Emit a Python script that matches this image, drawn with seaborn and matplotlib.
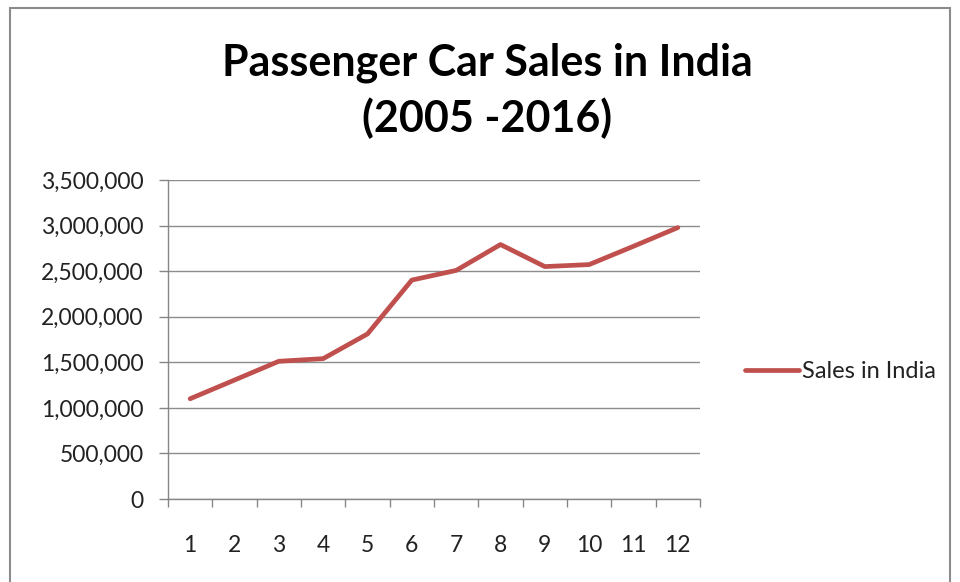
import numpy as np
import pandas as pd
import matplotlib
matplotlib.use('Agg')
import matplotlib.pyplot as plt
import matplotlib.ticker as mticker
from matplotlib.patches import Rectangle
import seaborn as sns

# %% Data
years = list(range(1, 13))
sales = [1100000, 1305000, 1511000, 1540000, 1811000, 2402000,
         2508000, 2792000, 2550000, 2572000, 2773000, 2978000]
y_ticks = [0, 500000, 1000000, 1500000, 2000000, 2500000, 3000000, 3500000]
series_name = 'Sales in India'
title = 'Passenger Car Sales in India\n(2005 -2016)'

df = pd.DataFrame({'idx': years, series_name: sales})

# %% Plot
sns.set_style('white')
plt.rcParams['font.family'] = ['Lato', 'DejaVu Sans']

fig = plt.figure(figsize=(9.6, 5.82), dpi=100)
ax = fig.add_axes([168/960, 83/582, 532/960, 319/582])

sns.lineplot(data=df, x='idx', y=series_name, ax=ax, color='#C0504D',
             linewidth=3.4, label=series_name, solid_capstyle='round')

ax.set_xlim(0.5, 12.5)
ax.set_ylim(0, 3500000)
ax.set_yticks(y_ticks)
ax.yaxis.set_major_formatter(mticker.FuncFormatter(lambda v, p: f'{int(v):,}'))
ax.set_xticks(years)
ax.set_xticks(np.arange(0.5, 12.6, 1), minor=True)
ax.tick_params(axis='x', which='major', length=0, pad=26, labelsize=16.5, colors='#222222')
ax.tick_params(axis='x', which='minor', length=6, width=1, color='#868686', direction='out', bottom=True)
ax.tick_params(axis='y', which='major', length=6.5, width=1, color='#868686', direction='out',
               left=True, pad=11, labelsize=16.5, labelcolor='#222222')
ax.grid(axis='y', color='#8c8c8c', linewidth=1)
ax.set_axisbelow(True)
for s in ['top', 'right']:
    ax.spines[s].set_visible(False)
for s in ['left', 'bottom']:
    ax.spines[s].set_color('#868686')
    ax.spines[s].set_linewidth(1)
ax.set_xlabel('')
ax.set_ylabel('')

leg = ax.legend(loc='center left', bbox_to_anchor=(1.045, 0.4), frameon=False,
                fontsize=17, handlelength=2.3, handletextpad=0.12)
for t in leg.get_texts():
    t.set_color('#222222')

fig.text(487/960, 1 - 91/582, title, ha='center', va='center', fontsize=31,
         fontweight='bold', color='black', linespacing=1.42)

fig.patches.append(Rectangle((10/960, -0.05), 940/960, 1 - 8/582 + 0.05,
                             transform=fig.transFigure, fill=False,
                             edgecolor='#8c8c8c', linewidth=1.5))

fig.savefig('out.png', dpi=100)
